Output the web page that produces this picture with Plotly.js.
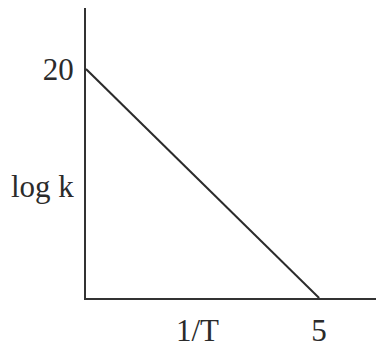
<!DOCTYPE html>
<html><head><meta charset="utf-8">
<script src="https://cdn.plot.ly/plotly-3.0.1.min.js"></script>
<style>html,body{margin:0;padding:0;background:#fff}#chart{width:376px;height:349px}</style>
</head><body><div id="chart"></div>
<script>
const invT = [0, 5];
const logK = [20, 0];
const xTickVals = [5];
const xTickText = ['5'];
const yTickVals = [20];
const yTickText = ['20'];
const xLabel = '1/T';
const yLabel = 'log k';

const font = {family: '"Liberation Serif", "Times New Roman", serif', size: 31, color: '#2b2b2b'};
const axisCommon = {
  showgrid: false, zeroline: false, showline: true, linecolor: '#333', linewidth: 2,
  ticks: '', tickfont: font, fixedrange: true
};
Plotly.newPlot('chart', [{
  x: invT, y: logK, mode: 'lines', line: {color: '#2b2b2b', width: 2}, hoverinfo: 'none'
}], {
  width: 376, height: 349,
  margin: {l: 86, r: 0, t: 8, b: 51},
  paper_bgcolor: '#fff', plot_bgcolor: '#fff',
  showlegend: false,
  xaxis: Object.assign({}, axisCommon, {range: [0, 6.22], tickvals: xTickVals, ticktext: xTickText, ticklabelstandoff: 4}),
  yaxis: Object.assign({}, axisCommon, {range: [0, 25.33], tickvals: yTickVals, ticktext: yTickText, ticklabelstandoff: 4}),
  annotations: [
    {text: yLabel, xref: 'paper', yref: 'paper', x: -0.034, y: 0.383, xanchor: 'right', yanchor: 'middle', showarrow: false, font: font},
    {text: xLabel, xref: 'paper', yref: 'paper', x: 0.383, y: -0.1759, xanchor: 'center', yanchor: 'bottom', borderpad: 0, showarrow: false, font: font}
  ]
}, {staticPlot: true});
</script></body></html>
